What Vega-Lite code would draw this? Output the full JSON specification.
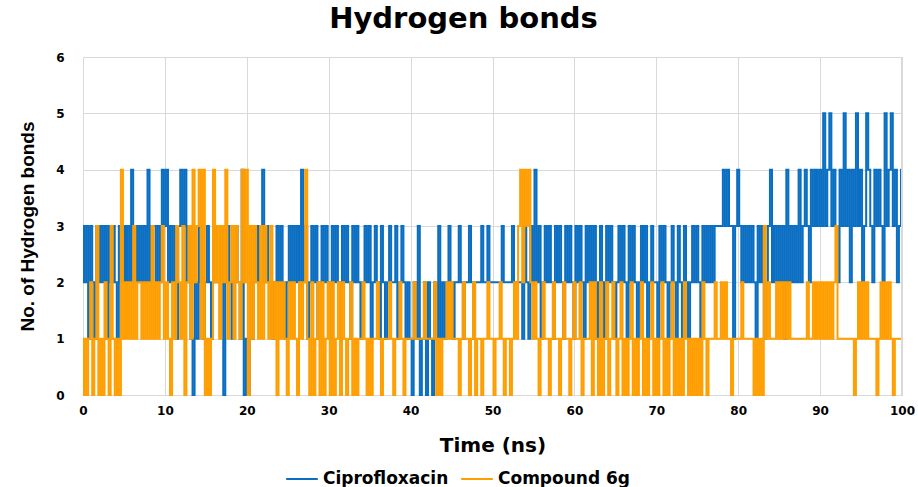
{
"$schema":"https://vega.github.io/schema/vega-lite/v6.json",
"autosize":{"type":"none"},
"width":819,"height":338,
"padding":{"left":83,"top":57,"right":16,"bottom":92},
"background":"white",
"title":{"text":"Hydrogen bonds","font":"DejaVu Sans","fontSize":29,"fontWeight":"bold","color":"#000000","anchor":"middle","offset":17,"dx":-29},
"config":{"view":{"stroke":null},"font":"DejaVu Sans"},
"data":{"values":[
{"t":0,"c":3,"o":0},{"t":0.25,"c":2,"o":1},{"t":0.5,"c":3,"o":0},{"t":0.75,"c":1,"o":1},
{"t":1,"c":3,"o":2},{"t":1.25,"c":2,"o":0},{"t":1.5,"c":1,"o":1},{"t":1.75,"c":3,"o":3},
{"t":2,"c":2,"o":0},{"t":2.25,"c":3,"o":1},{"t":2.5,"c":2,"o":0},{"t":2.75,"c":3,"o":2},
{"t":3,"c":1,"o":1},{"t":3.25,"c":3,"o":0},{"t":3.5,"c":2,"o":3},{"t":3.75,"c":3,"o":1},
{"t":4,"c":2,"o":0},{"t":4.25,"c":1,"o":1},{"t":4.5,"c":3,"o":0},{"t":4.75,"c":2,"o":4},
{"t":5,"c":3,"o":1},{"t":5.25,"c":2,"o":2},{"t":5.5,"c":3,"o":1},{"t":5.75,"c":2,"o":2},
{"t":6,"c":4,"o":1},{"t":6.25,"c":2,"o":3},{"t":6.5,"c":3,"o":1},{"t":6.75,"c":2,"o":2},
{"t":7,"c":3,"o":2},{"t":7.25,"c":2,"o":1},{"t":7.5,"c":3,"o":2},{"t":7.75,"c":2,"o":1},
{"t":8,"c":4,"o":2},{"t":8.25,"c":2,"o":1},{"t":8.5,"c":3,"o":3},{"t":8.75,"c":3,"o":1},
{"t":9,"c":2,"o":2},{"t":9.25,"c":3,"o":1},{"t":9.5,"c":2,"o":2},{"t":9.75,"c":4,"o":3},
{"t":10,"c":3,"o":1},{"t":10.25,"c":4,"o":2},{"t":10.5,"c":2,"o":1},{"t":10.75,"c":3,"o":0},
{"t":11,"c":2,"o":2},{"t":11.25,"c":3,"o":1},{"t":11.5,"c":1,"o":3},{"t":11.75,"c":3,"o":2},
{"t":12,"c":4,"o":1},{"t":12.25,"c":3,"o":3},{"t":12.5,"c":4,"o":0},{"t":12.75,"c":2,"o":2},
{"t":13,"c":3,"o":3},{"t":13.25,"c":1,"o":1},{"t":13.5,"c":0,"o":4},{"t":13.75,"c":2,"o":2},
{"t":14,"c":1,"o":3},{"t":14.25,"c":3,"o":4},{"t":14.5,"c":2,"o":1},{"t":14.75,"c":1,"o":4},
{"t":15,"c":2,"o":0},{"t":15.25,"c":3,"o":1},{"t":15.5,"c":2,"o":0},{"t":15.75,"c":1,"o":1},
{"t":16,"c":2,"o":4},{"t":16.25,"c":3,"o":2},{"t":16.5,"c":2,"o":3},{"t":16.75,"c":2,"o":1},
{"t":17,"c":3,"o":3},{"t":17.25,"c":0,"o":2},{"t":17.5,"c":2,"o":4},{"t":17.75,"c":3,"o":1},
{"t":18,"c":2,"o":2},{"t":18.25,"c":1,"o":3},{"t":18.5,"c":2,"o":1},{"t":18.75,"c":3,"o":3},
{"t":19,"c":2,"o":2},{"t":19.25,"c":1,"o":1},{"t":19.5,"c":4,"o":4},{"t":19.75,"c":0,"o":2},
{"t":20,"c":1,"o":4},{"t":20.25,"c":0,"o":0},{"t":20.5,"c":2,"o":3},{"t":20.75,"c":1,"o":1},
{"t":21,"c":2,"o":3},{"t":21.25,"c":3,"o":2},{"t":21.5,"c":2,"o":1},{"t":21.75,"c":3,"o":3},
{"t":22,"c":4,"o":1},{"t":22.25,"c":2,"o":3},{"t":22.5,"c":3,"o":2},{"t":22.75,"c":2,"o":1},
{"t":23,"c":2,"o":3},{"t":23.25,"c":1,"o":1},{"t":23.5,"c":2,"o":2},{"t":23.75,"c":3,"o":0},
{"t":24,"c":2,"o":2},{"t":24.25,"c":3,"o":1},{"t":24.5,"c":2,"o":2},{"t":24.75,"c":1,"o":1},
{"t":25,"c":2,"o":0},{"t":25.25,"c":3,"o":2},{"t":25.5,"c":2,"o":1},{"t":25.75,"c":3,"o":2},
{"t":26,"c":2,"o":1},{"t":26.25,"c":3,"o":0},{"t":26.5,"c":2,"o":2},{"t":26.75,"c":4,"o":1},
{"t":27,"c":2,"o":2},{"t":27.25,"c":3,"o":4},{"t":27.5,"c":1,"o":1},{"t":27.75,"c":2,"o":0},
{"t":28,"c":3,"o":2},{"t":28.25,"c":2,"o":0},{"t":28.5,"c":3,"o":1},{"t":28.75,"c":1,"o":2},
{"t":29,"c":2,"o":0},{"t":29.25,"c":3,"o":2},{"t":29.5,"c":2,"o":0},{"t":29.75,"c":3,"o":1},
{"t":30,"c":2,"o":2},{"t":30.25,"c":1,"o":0},{"t":30.5,"c":3,"o":2},{"t":30.75,"c":2,"o":0},
{"t":31,"c":3,"o":1},{"t":31.25,"c":2,"o":2},{"t":31.5,"c":1,"o":0},{"t":31.75,"c":3,"o":2},
{"t":32,"c":2,"o":1},{"t":32.25,"c":3,"o":0},{"t":32.5,"c":2,"o":1},{"t":32.75,"c":1,"o":2},
{"t":33,"c":3,"o":0},{"t":33.25,"c":2,"o":1},{"t":33.5,"c":3,"o":0},{"t":33.75,"c":2,"o":1},
{"t":34,"c":1,"o":1},{"t":34.25,"c":2,"o":2},{"t":34.5,"c":3,"o":1},{"t":34.75,"c":2,"o":0},
{"t":35,"c":3,"o":1},{"t":35.25,"c":1,"o":0},{"t":35.5,"c":2,"o":1},{"t":35.75,"c":3,"o":1},
{"t":36,"c":2,"o":2},{"t":36.25,"c":1,"o":1},{"t":36.5,"c":3,"o":0},{"t":36.75,"c":2,"o":1},
{"t":37,"c":1,"o":1},{"t":37.25,"c":2,"o":1},{"t":37.5,"c":3,"o":2},{"t":37.75,"c":2,"o":1},
{"t":38,"c":2,"o":0},{"t":38.25,"c":3,"o":1},{"t":38.5,"c":1,"o":1},{"t":38.75,"c":2,"o":2},
{"t":39,"c":3,"o":1},{"t":39.25,"c":2,"o":0},{"t":39.5,"c":1,"o":1},{"t":39.75,"c":2,"o":1},
{"t":40,"c":1,"o":1},{"t":40.25,"c":0,"o":1},{"t":40.5,"c":2,"o":2},{"t":40.75,"c":1,"o":1},
{"t":41,"c":3,"o":1},{"t":41.25,"c":0,"o":1},{"t":41.5,"c":1,"o":1},{"t":41.75,"c":2,"o":2},
{"t":42,"c":0,"o":1},{"t":42.25,"c":2,"o":1},{"t":42.5,"c":1,"o":1},{"t":42.75,"c":0,"o":1},
{"t":43,"c":2,"o":2},{"t":43.25,"c":1,"o":0},{"t":43.5,"c":3,"o":1},{"t":43.75,"c":1,"o":0},
{"t":44,"c":2,"o":1},{"t":44.25,"c":1,"o":1},{"t":44.5,"c":2,"o":2},{"t":44.75,"c":3,"o":1},
{"t":45,"c":2,"o":2},{"t":45.25,"c":1,"o":1},{"t":45.5,"c":2,"o":1},{"t":45.75,"c":2,"o":1},
{"t":46,"c":3,"o":0},{"t":46.25,"c":2,"o":1},{"t":46.5,"c":1,"o":2},{"t":46.75,"c":2,"o":1},
{"t":47,"c":2,"o":1},{"t":47.25,"c":3,"o":0},{"t":47.5,"c":2,"o":1},{"t":47.75,"c":1,"o":2},
{"t":48,"c":2,"o":0},{"t":48.25,"c":2,"o":1},{"t":48.5,"c":2,"o":1},{"t":48.75,"c":3,"o":0},
{"t":49,"c":2,"o":1},{"t":49.25,"c":2,"o":1},{"t":49.5,"c":3,"o":2},{"t":49.75,"c":2,"o":1},
{"t":50,"c":2,"o":1},{"t":50.25,"c":2,"o":0},{"t":50.5,"c":2,"o":1},{"t":50.75,"c":2,"o":1},
{"t":51,"c":2,"o":2},{"t":51.25,"c":3,"o":1},{"t":51.5,"c":2,"o":0},{"t":51.75,"c":2,"o":1},
{"t":52,"c":2,"o":1},{"t":52.25,"c":2,"o":0},{"t":52.5,"c":3,"o":1},{"t":52.75,"c":2,"o":2},
{"t":53,"c":2,"o":1},{"t":53.25,"c":2,"o":3},{"t":53.5,"c":2,"o":4},{"t":53.75,"c":1,"o":2},
{"t":54,"c":3,"o":4},{"t":54.25,"c":2,"o":3},{"t":54.5,"c":1,"o":4},{"t":54.75,"c":3,"o":2},
{"t":55,"c":2,"o":1},{"t":55.25,"c":4,"o":2},{"t":55.5,"c":2,"o":1},{"t":55.75,"c":3,"o":0},
{"t":56,"c":1,"o":1},{"t":56.25,"c":2,"o":2},{"t":56.5,"c":3,"o":1},{"t":56.75,"c":2,"o":1},
{"t":57,"c":3,"o":0},{"t":57.25,"c":2,"o":1},{"t":57.5,"c":1,"o":2},{"t":57.75,"c":3,"o":1},
{"t":58,"c":2,"o":1},{"t":58.25,"c":3,"o":0},{"t":58.5,"c":2,"o":1},{"t":58.75,"c":1,"o":2},
{"t":59,"c":3,"o":1},{"t":59.25,"c":2,"o":1},{"t":59.5,"c":3,"o":0},{"t":59.75,"c":2,"o":1},
{"t":60,"c":1,"o":2},{"t":60.25,"c":3,"o":1},{"t":60.5,"c":2,"o":1},{"t":60.75,"c":3,"o":2},
{"t":61,"c":2,"o":0},{"t":61.25,"c":1,"o":1},{"t":61.5,"c":3,"o":1},{"t":61.75,"c":2,"o":1},
{"t":62,"c":3,"o":2},{"t":62.25,"c":2,"o":0},{"t":62.5,"c":3,"o":2},{"t":62.75,"c":1,"o":1},
{"t":63,"c":2,"o":0},{"t":63.25,"c":3,"o":2},{"t":63.5,"c":2,"o":0},{"t":63.75,"c":1,"o":1},
{"t":64,"c":3,"o":2},{"t":64.25,"c":2,"o":0},{"t":64.5,"c":3,"o":1},{"t":64.75,"c":2,"o":2},
{"t":65,"c":1,"o":1},{"t":65.25,"c":2,"o":0},{"t":65.5,"c":3,"o":1},{"t":65.75,"c":2,"o":2},
{"t":66,"c":3,"o":0},{"t":66.25,"c":2,"o":1},{"t":66.5,"c":1,"o":0},{"t":66.75,"c":3,"o":1},
{"t":67,"c":2,"o":2},{"t":67.25,"c":3,"o":0},{"t":67.5,"c":2,"o":1},{"t":67.75,"c":1,"o":0},
{"t":68,"c":2,"o":1},{"t":68.25,"c":3,"o":2},{"t":68.5,"c":2,"o":0},{"t":68.75,"c":3,"o":1},
{"t":69,"c":1,"o":0},{"t":69.25,"c":2,"o":1},{"t":69.5,"c":3,"o":2},{"t":69.75,"c":2,"o":0},
{"t":70,"c":2,"o":1},{"t":70.25,"c":1,"o":0},{"t":70.5,"c":3,"o":1},{"t":70.75,"c":2,"o":2},
{"t":71,"c":3,"o":0},{"t":71.25,"c":2,"o":1},{"t":71.5,"c":1,"o":0},{"t":71.75,"c":2,"o":1},
{"t":72,"c":3,"o":2},{"t":72.25,"c":2,"o":0},{"t":72.5,"c":1,"o":1},{"t":72.75,"c":3,"o":0},
{"t":73,"c":2,"o":1},{"t":73.25,"c":1,"o":0},{"t":73.5,"c":3,"o":2},{"t":73.75,"c":2,"o":1},
{"t":74,"c":1,"o":0},{"t":74.25,"c":2,"o":1},{"t":74.5,"c":3,"o":0},{"t":74.75,"c":2,"o":1},
{"t":75,"c":3,"o":0},{"t":75.25,"c":2,"o":1},{"t":75.5,"c":1,"o":0},{"t":75.75,"c":3,"o":2},
{"t":76,"c":2,"o":1},{"t":76.25,"c":3,"o":0},{"t":76.5,"c":2,"o":1},{"t":76.75,"c":3,"o":1},
{"t":77,"c":2,"o":1},{"t":77.25,"c":3,"o":2},{"t":77.5,"c":3,"o":1},{"t":77.75,"c":3,"o":1},
{"t":78,"c":3,"o":2},{"t":78.25,"c":4,"o":1},{"t":78.5,"c":3,"o":2},{"t":78.75,"c":4,"o":1},
{"t":79,"c":3,"o":1},{"t":79.25,"c":3,"o":0},{"t":79.5,"c":1,"o":1},{"t":79.75,"c":3,"o":1},
{"t":80,"c":4,"o":1},{"t":80.25,"c":3,"o":1},{"t":80.5,"c":2,"o":2},{"t":80.75,"c":3,"o":1},
{"t":81,"c":2,"o":1},{"t":81.25,"c":3,"o":1},{"t":81.5,"c":2,"o":1},{"t":81.75,"c":3,"o":1},
{"t":82,"c":2,"o":0},{"t":82.25,"c":1,"o":1},{"t":82.5,"c":3,"o":0},{"t":82.75,"c":2,"o":1},
{"t":83,"c":3,"o":0},{"t":83.25,"c":1,"o":3},{"t":83.5,"c":2,"o":1},{"t":83.75,"c":3,"o":2},
{"t":84,"c":4,"o":1},{"t":84.25,"c":2,"o":1},{"t":84.5,"c":3,"o":1},{"t":84.75,"c":2,"o":2},
{"t":85,"c":3,"o":1},{"t":85.25,"c":2,"o":2},{"t":85.5,"c":3,"o":1},{"t":85.75,"c":1,"o":2},
{"t":86,"c":4,"o":1},{"t":86.25,"c":2,"o":2},{"t":86.5,"c":3,"o":1},{"t":86.75,"c":2,"o":1},
{"t":87,"c":3,"o":1},{"t":87.25,"c":2,"o":1},{"t":87.5,"c":4,"o":1},{"t":87.75,"c":2,"o":1},
{"t":88,"c":3,"o":1},{"t":88.25,"c":4,"o":1},{"t":88.5,"c":3,"o":2},{"t":88.75,"c":2,"o":1},
{"t":89,"c":4,"o":1},{"t":89.25,"c":3,"o":2},{"t":89.5,"c":4,"o":1},{"t":89.75,"c":3,"o":2},
{"t":90,"c":4,"o":1},{"t":90.25,"c":3,"o":2},{"t":90.5,"c":5,"o":1},{"t":90.75,"c":3,"o":2},
{"t":91,"c":4,"o":1},{"t":91.25,"c":5,"o":2},{"t":91.5,"c":3,"o":1},{"t":91.75,"c":4,"o":2},
{"t":92,"c":3,"o":3},{"t":92.25,"c":2,"o":1},{"t":92.5,"c":4,"o":1},{"t":92.75,"c":3,"o":1},
{"t":93,"c":5,"o":1},{"t":93.25,"c":3,"o":1},{"t":93.5,"c":4,"o":1},{"t":93.75,"c":2,"o":1},
{"t":94,"c":4,"o":1},{"t":94.25,"c":3,"o":0},{"t":94.5,"c":5,"o":1},{"t":94.75,"c":3,"o":2},
{"t":95,"c":4,"o":1},{"t":95.25,"c":2,"o":2},{"t":95.5,"c":3,"o":1},{"t":95.75,"c":5,"o":2},
{"t":96,"c":4,"o":1},{"t":96.25,"c":3,"o":1},{"t":96.5,"c":2,"o":1},{"t":96.75,"c":4,"o":1},
{"t":97,"c":3,"o":0},{"t":97.25,"c":4,"o":1},{"t":97.5,"c":3,"o":2},{"t":97.75,"c":2,"o":1},
{"t":98,"c":5,"o":2},{"t":98.25,"c":3,"o":1},{"t":98.5,"c":4,"o":2},{"t":98.75,"c":5,"o":1},
{"t":99,"c":3,"o":0},{"t":99.25,"c":4,"o":1},{"t":99.5,"c":2,"o":1},{"t":99.75,"c":3,"o":1},
{"t":100,"c":4,"o":1}
]},
"encoding":{
"x":{"field":"t","type":"quantitative","scale":{"domain":[0,100],"nice":false},
"axis":{"title":"Time (ns)","values":[0,10,20,30,40,50,60,70,80,90,100],"labelFlush":false,"grid":true,"gridColor":"#d9d9d9","gridWidth":1,"domain":true,"domainColor":"#d9d9d9","ticks":false,"labelPadding":10,"labelFont":"DejaVu Sans","labelFontSize":12,"labelFontWeight":"bold","labelColor":"#000000","titleFont":"DejaVu Sans","titleFontSize":20,"titleFontWeight":"bold","titleColor":"#000000","titlePadding":19}}
},
"layer":[
{"mark":{"type":"line","strokeWidth":2,"interpolate":"step"},
"encoding":{"y":{"field":"c","type":"quantitative","scale":{"domain":[0,6],"nice":false},
"axis":{"title":"No. of Hydrogen bonds","values":[0,1,2,3,4,5,6],"format":"d","grid":true,"gridColor":"#d9d9d9","gridWidth":1,"domain":false,"ticks":false,"labelPadding":19,"labelFont":"DejaVu Sans","labelFontSize":12,"labelFontWeight":"bold","labelColor":"#000000","titleFont":"Liberation Sans","titleFontSize":19,"titleFontWeight":"bold","titleColor":"#000000","titlePadding":18}},
"color":{"datum":"Ciprofloxacin","type":"nominal","scale":{"domain":["Ciprofloxacin","Compound 6g"],"range":["#0a6fc2","#ff9e00"]},
"legend":{"title":null,"orient":"none","legendX":202,"legendY":405,"direction":"horizontal","symbolType":"stroke","symbolSize":1000,"symbolStrokeWidth":2,"labelFont":"DejaVu Sans","labelFontSize":17,"labelFontWeight":"bold","labelColor":"#000000","columnPadding":8,"labelOffset":4}}}},
{"mark":{"type":"line","strokeWidth":2,"interpolate":"step"},
"encoding":{"y":{"field":"o","type":"quantitative"},
"color":{"datum":"Compound 6g","type":"nominal"}}},
{"mark":{"type":"rule","color":"#d9d9d9","strokeWidth":1},"encoding":{"x":{"datum":100}}}
]
}
